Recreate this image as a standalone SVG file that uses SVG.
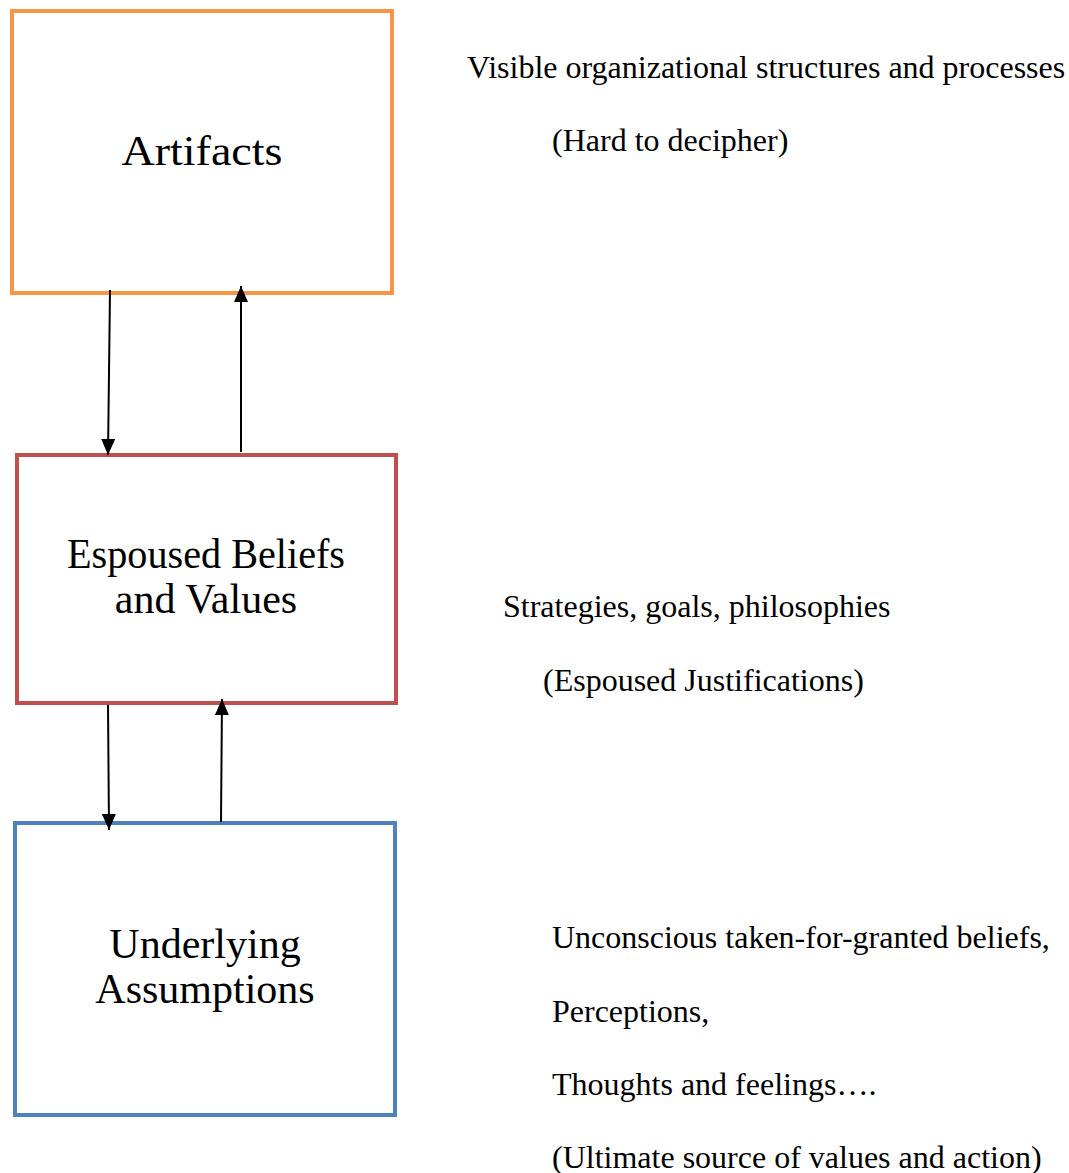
<svg xmlns="http://www.w3.org/2000/svg" width="1069" height="1173" viewBox="0 0 1069 1173">
<style>
.box{fill:#fff;stroke-width:4}
.lbl{font-family:"Liberation Serif","DejaVu Serif",serif;font-size:42px;fill:#000;text-anchor:middle}
.note{font-family:"Liberation Serif",serif;font-size:32px;fill:#000}
.conn line{stroke:#000;stroke-width:2;marker-end:url(#ah)}
</style>
<defs>
<marker id="ah" viewBox="0 0 16 14" refX="16" refY="7" markerWidth="16" markerHeight="14" orient="auto" markerUnits="userSpaceOnUse">
<path d="M0,0 L16,7 L0,14 Z" fill="#000"/>
</marker>
</defs>
<rect width="1069" height="1173" fill="#fff"/>
<g id="artifacts">
<rect class="box" x="12" y="11" width="380" height="282" stroke="#F79646"/>
<text class="lbl" x="202" y="165" textLength="161" lengthAdjust="spacingAndGlyphs">Artifacts</text>
</g>
<g id="espoused">
<rect class="box" x="17" y="455" width="379" height="248" stroke="#C0504D"/>
<text class="lbl" x="206" y="568" textLength="278" lengthAdjust="spacingAndGlyphs">Espoused Beliefs</text>
<text class="lbl" x="206" y="613">and Values</text>
</g>
<g id="underlying">
<rect class="box" x="15" y="823" width="380" height="292" stroke="#4F81BD"/>
<text class="lbl" x="205" y="958">Underlying</text>
<text class="lbl" x="205" y="1003">Assumptions</text>
</g>
<g id="connectors" class="conn">
<line x1="110" y1="290" x2="108" y2="455"/>
<line x1="241" y1="452" x2="241" y2="286"/>
<line x1="108" y1="705" x2="109" y2="830"/>
<line x1="221" y1="822" x2="222" y2="699"/>
</g>
<g id="notes">
<text class="note" x="467" y="78">Visible organizational structures and processes</text>
<text class="note" x="552" y="151">(Hard to decipher)</text>
<text class="note" x="503" y="617">Strategies, goals, philosophies</text>
<text class="note" x="543" y="691">(Espoused Justifications)</text>
<text class="note" x="552" y="948">Unconscious taken-for-granted beliefs,</text>
<text class="note" x="552" y="1022">Perceptions,</text>
<text class="note" x="552" y="1095">Thoughts and feelings….</text>
<text class="note" x="552" y="1168">(Ultimate source of values and action)</text>
</g>
</svg>
